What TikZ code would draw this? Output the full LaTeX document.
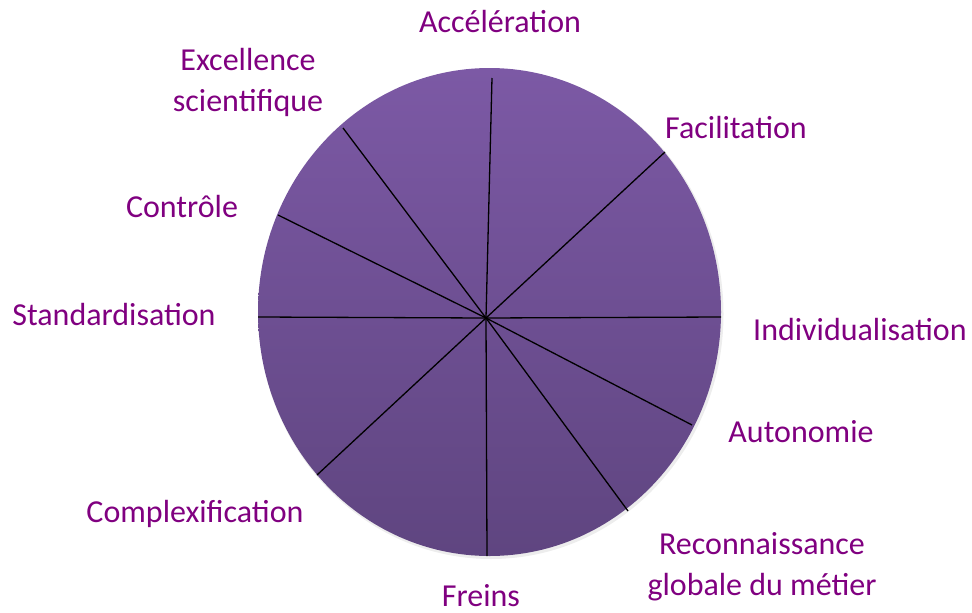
\documentclass[tikz,border=0pt]{standalone}
\usepackage{fontspec}
\setmainfont{Carlito}
\definecolor{labelcol}{RGB}{128,0,128}
\definecolor{topcol}{RGB}{124,89,165}
\definecolor{botcol}{RGB}{95,69,128}
\begin{document}
\begin{tikzpicture}[x=1pt, y=-1pt,
    lbl/.style={text=labelcol, font=\fontsize{32}{41}\selectfont, align=center, inner sep=0pt},
    spoke/.style={draw=black, line width=1.3pt}]
  \useasboundingbox (0, 0) rectangle (972, 613);

  % the disc
  \fill[black!20, opacity=0.35] (491, 314) ellipse [x radius=232.5, y radius=245];
  \shade[top color=topcol, bottom color=botcol] (489.5, 312) ellipse [x radius=231.5, y radius=244];

  % spokes
  \coordinate (c) at (486, 318);
  \coordinate (acc) at (492, 78);
  \coordinate (fac) at (665, 152);
  \coordinate (ind) at (721, 317);
  \coordinate (aut) at (692, 425);
  \coordinate (rec) at (628, 511);
  \coordinate (fre) at (487, 556);
  \coordinate (com) at (317, 475);
  \coordinate (sta) at (258, 317);
  \coordinate (con) at (278, 215);
  \coordinate (exc) at (343, 128);
  \foreach \p in {acc, fac, ind, aut, rec, fre, com, sta, con, exc}
    \draw[spoke] (c) -- (\p);

  % labels
  \node[lbl] (lacc) at (500, 22) {Accélération};
  \node[lbl] (lexc) at (248, 82) {Excellence\\scientifique};
  \node[lbl] (lfac) at (736, 128) {Facilitation};
  \node[lbl] (lcon) at (182, 207) {Contrôle};
  \node[lbl] (lsta) at (114, 315) {Standardisation};
  \node[lbl] (lind) at (860, 330) {Individualisation};
  \node[lbl] (laut) at (801, 432) {Autonomie};
  \node[lbl] (lcom) at (195, 514) {Complexification};
  \node[lbl] (lrec) at (762, 567) {Reconnaissance\\globale du métier};
  \node[lbl] (lfre) at (481, 596) {Freins};
\end{tikzpicture}
\end{document}
